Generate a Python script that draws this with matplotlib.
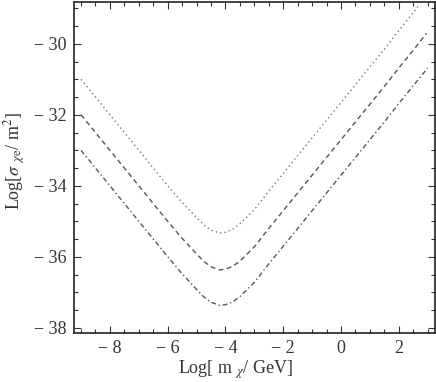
import matplotlib
matplotlib.use("Agg")
import matplotlib.pyplot as plt
from matplotlib.ticker import MultipleLocator, FuncFormatter

plt.rcParams['font.family'] = ['Liberation Serif', 'DejaVu Serif']
plt.rcParams['mathtext.fontset'] = 'stix'

x_dotted = [-9.0, -8.5, -8.0, -7.5, -7.0, -6.5, -6.0, -5.5, -5.0, -4.75, -4.5, -4.2, -4.0, -3.75,
            -3.5, -3.0, -2.5, -2.0, -1.5, -1.0, -0.5, 0.0, 0.5, 1.0, 1.5, 2.0, 2.5, 2.66]
y_dotted = [-31.0, -31.5, -32.0, -32.5, -33.0, -33.5, -34.0, -34.47, -34.9, -35.1, -35.25, -35.33,
            -35.31, -35.22, -35.07, -34.67, -34.15, -33.65, -33.15, -32.65, -32.15, -31.65, -31.15,
            -30.65, -30.15, -29.63, -29.12, -28.95]

x_dashed = [-9.0, -8.5, -8.0, -7.5, -7.0, -6.5, -6.0, -5.5, -5.0, -4.75, -4.5, -4.2, -4.0, -3.75,
            -3.5, -3.0, -2.5, -2.0, -1.5, -1.0, -0.5, 0.0, 0.5, 1.0, 1.5, 2.0, 2.5, 2.96]
y_dashed = [-32.0, -32.5, -33.0, -33.5, -34.0, -34.5, -35.0, -35.48, -35.92, -36.13, -36.28, -36.37,
            -36.35, -36.27, -36.12, -35.72, -35.2, -34.7, -34.2, -33.7, -33.2, -32.7, -32.2, -31.7,
            -31.2, -30.68, -30.18, -29.7]

x_dashdot = [-9.0, -8.5, -8.0, -7.5, -7.0, -6.5, -6.0, -5.5, -5.0, -4.75, -4.5, -4.2, -4.0, -3.75,
             -3.5, -3.0, -2.5, -2.0, -1.5, -1.0, -0.5, 0.0, 0.5, 1.0, 1.5, 2.0, 2.5, 3.0]
y_dashdot = [-33.0, -33.5, -34.0, -34.5, -35.0, -35.5, -36.0, -36.48, -36.92, -37.13, -37.28, -37.37,
             -37.35, -37.27, -37.12, -36.72, -36.2, -35.7, -35.2, -34.7, -34.2, -33.7, -33.2, -32.7,
             -32.2, -31.68, -31.18, -30.68]

fig = plt.figure(figsize=(4.36, 3.82), dpi=100)
ax = fig.add_axes([0.1686, 0.128, 0.829, 0.867])

ax.plot(x_dotted, y_dotted, color='#777777', lw=1.0, linestyle=(0, (1, 2.2)))
ax.plot(x_dashed, y_dashed, color='#555555', lw=1.0, linestyle=(0, (3.5, 2.5)))
ax.plot(x_dashdot, y_dashdot, color='#555555', lw=1.0, linestyle=(0, (3.5, 2, 1, 2)))

ax.set_xlim(-9.26, 3.25)
ax.set_ylim(-38.15, -28.82)

ax.xaxis.set_major_locator(MultipleLocator(2))
ax.xaxis.set_minor_locator(MultipleLocator(0.5))
ax.yaxis.set_major_locator(MultipleLocator(2))
ax.yaxis.set_minor_locator(MultipleLocator(0.5))

def fmt(v, pos):
    v = int(round(v))
    return ('\u2212 %d' % -v) if v < 0 else '%d' % v

ax.xaxis.set_major_formatter(FuncFormatter(fmt))
ax.yaxis.set_major_formatter(FuncFormatter(fmt))

ax.tick_params(which='both', direction='in', top=True, right=True, colors='#333333',
               labelsize=13, width=0.8)
ax.tick_params(which='major', length=5, pad=5)
ax.tick_params(which='minor', length=3)
for s in ax.spines.values():
    s.set_linewidth(1.2)
    s.set_color('#222222')

ax.set_xlabel('Log[ m $_{\\chi}$/ GeV]', fontsize=13, color='#333333')
ax.set_ylabel('Log[$\\sigma$ $_{\\chi\\mathrm{e}}$/ m$^{2}$]', fontsize=13, color='#333333')
ax.xaxis.set_label_coords(0.447, -0.112)
ax.xaxis.label.set_va('center')
ax.yaxis.set_label_coords(-0.162, 0.52)
ax.yaxis.label.set_va('center')

fig.savefig('out.png', dpi=100)
